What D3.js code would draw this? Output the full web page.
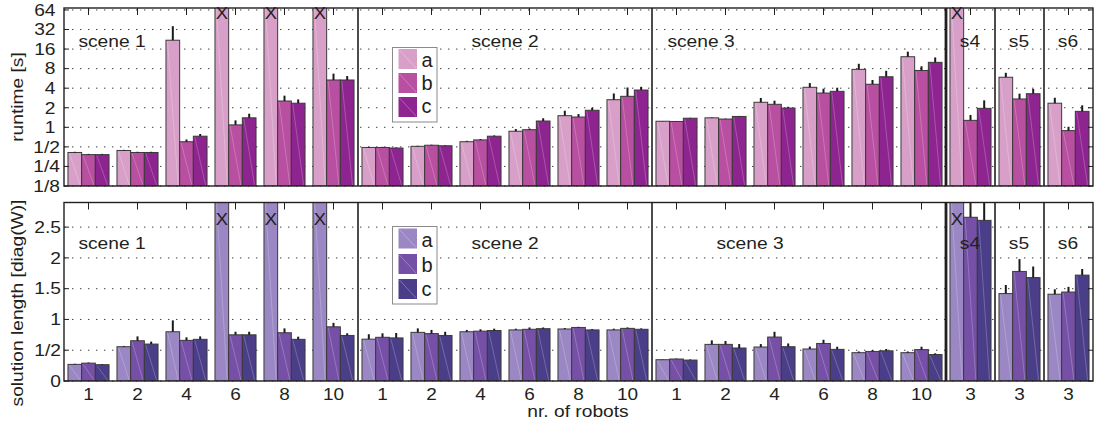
<!DOCTYPE html>
<html>
<head>
<meta charset="utf-8">
<script src="https://cdn.jsdelivr.net/npm/d3@7"></script>
<style>
  body { margin: 0; background: #fff; }
  text { font-family: "Liberation Sans", Arial, sans-serif; fill: #231f20; }
</style>
</head>
<body>
<svg id="chart" width="1094" height="426"></svg>
<script>
// groups along the x axis (nr. of robots), split into scenes
const groupLabels = ['1','2','4','6','8','10', '1','2','4','6','8','10', '1','2','4','6','8','10', '3','3','3'];
const sceneNames = ['scene 1', 'scene 2', 'scene 3', 's4', 's5', 's6'];
const sceneSizes = [6, 6, 6, 1, 1, 1];
const methods = ['a', 'b', 'c'];

// runtime [s]; null = timed out (drawn as full bar with X)
const runtimeA = [0.41, 0.44, 21.9, null, null, null, 0.49, 0.51, 0.60, 0.87, 1.51, 2.66, 1.24, 1.40, 2.43, 4.13, 7.8, 12.2, null, 5.9, 2.35];
const runtimeB = [0.38, 0.41, 0.60, 1.09, 2.54, 5.35, 0.49, 0.53, 0.64, 0.92, 1.44, 3.0, 1.23, 1.34, 2.26, 3.37, 4.6, 7.5, 1.28, 2.73, 0.89];
const runtimeC = [0.38, 0.41, 0.73, 1.40, 2.35, 5.35, 0.48, 0.52, 0.73, 1.25, 1.83, 3.75, 1.38, 1.47, 1.98, 3.58, 6.0, 10.0, 1.96, 3.29, 1.76];
// upper end of the error whiskers
const runtimeErrA = [0.42, 0.45, 36, null, null, null, 0.50, 0.52, 0.62, 0.94, 1.80, 3.32, 1.25, 1.42, 2.83, 4.8, 9.5, 14.6, null, 6.9, 2.85];
const runtimeErrB = [0.39, 0.42, 0.65, 1.28, 3.07, 6.7, 0.50, 0.54, 0.66, 0.96, 1.6, 4.1, 1.24, 1.36, 2.57, 3.93, 5.35, 8.7, 1.55, 3.3, 1.02];
const runtimeErrC = [0.39, 0.42, 0.79, 1.62, 2.69, 6.15, 0.49, 0.53, 0.75, 1.38, 2.0, 4.2, 1.40, 1.49, 2.07, 4.07, 7.4, 11.9, 2.6, 3.9, 2.18];

// solution length [diag(W)]
const lengthA = [0.27, 0.557, 0.80, null, null, null, 0.68, 0.79, 0.80, 0.83, 0.845, 0.83, 0.346, 0.595, 0.552, 0.52, 0.46, 0.46, null, 1.42, 1.41];
const lengthB = [0.29, 0.654, 0.66, 0.75, 0.784, 0.88, 0.71, 0.77, 0.81, 0.84, 0.87, 0.855, 0.357, 0.595, 0.714, 0.61, 0.48, 0.51, 2.66, 1.78, 1.445];
const lengthC = [0.265, 0.60, 0.677, 0.75, 0.677, 0.74, 0.70, 0.74, 0.82, 0.85, 0.83, 0.84, 0.34, 0.536, 0.557, 0.514, 0.49, 0.43, 2.61, 1.68, 1.72];
const lengthErrA = [0.28, 0.57, 0.985, null, null, null, 0.76, 0.855, 0.83, 0.85, 0.86, 0.85, 0.35, 0.66, 0.60, 0.56, 0.48, 0.48, null, 1.56, 1.49];
const lengthErrB = [0.30, 0.725, 0.71, 0.80, 0.855, 0.945, 0.775, 0.83, 0.84, 0.87, 0.88, 0.87, 0.365, 0.65, 0.80, 0.67, 0.50, 0.557, 3.2, 1.98, 1.53];
const lengthErrC = [0.275, 0.64, 0.725, 0.80, 0.72, 0.775, 0.78, 0.80, 0.85, 0.87, 0.845, 0.855, 0.35, 0.60, 0.61, 0.557, 0.52, 0.45, 3.2, 1.86, 1.82];

const runtimeTicks = [1/8, 1/4, 1/2, 1, 2, 4, 8, 16, 32, 64];
const runtimeTickLabels = ['1/8', '1/4', '1/2', '1', '2', '4', '8', '16', '32', '64'];
const lengthTicks = [0, 0.5, 1, 1.5, 2, 2.5];
const lengthTickLabels = ['0', '1/2', '1', '1.5', '2', '2.5'];

const runtimeColors = ['#d8a0c8', '#b84fa0', '#8e2490'];
const lengthColors = ['#9a87c3', '#7650a6', '#4b3e88'];

// ---- layout ----
const SX = 1.2;            // the original type is stretched along the text direction
const FS = 16;
const left = 64, right = 1093;
const svg = d3.select('#chart');

const x = d3.scaleBand().domain(d3.range(groupLabels.length)).range([left, right]).padding(0);
const xm = d3.scaleBand().domain(methods).range([0, x.bandwidth()]).paddingInner(0).paddingOuter(0.29);

function label(g, px, py, str, anchor, size, rot, sx) {
  var s = sx === undefined ? SX : sx;
  return g.append('text')
    .attr('transform', 'translate(' + px + ',' + py + ')' + (rot ? ' rotate(-90)' : '') + ' scale(' + s + ',1)')
    .attr('text-anchor', anchor || 'middle')
    .attr('font-size', size || FS)
    .text(str);
}

// scene start indices
var sceneStart = [];
sceneSizes.reduce(function(acc, n) { sceneStart.push(acc); return acc + n; }, 0);

const panels = [
  {
    id: 'rt',
    y: d3.scaleLog().base(2).domain([1/8, Math.pow(2, 6.1)]).range([186, 8]),
    values: [runtimeA, runtimeB, runtimeC],
    errs: [runtimeErrA, runtimeErrB, runtimeErrC],
    colors: runtimeColors,
    ticks: runtimeTicks, tickLabels: runtimeTickLabels,
    tickLabelX: function(d) { return d < 1 ? 60 : 55.5; },
    title: 'runtime [s]', titleY: 97,
    sceneX: [112, 505, 701, 970, 1019, 1068], sceneY: 46.5,
    legend: {x: 392.5, y: 47.5, w: 44.5, h: 74.5, rows: [49, 73, 97], textY: [66.5, 89.5, 113]},
    xMarkY: 19,
    showX: false
  },
  {
    id: 'len',
    y: d3.scaleLinear().domain([0, 2.9]).range([381, 202.5]),
    values: [lengthA, lengthB, lengthC],
    errs: [lengthErrA, lengthErrB, lengthErrC],
    colors: lengthColors,
    ticks: lengthTicks, tickLabels: lengthTickLabels,
    tickLabelX: function() { return 61; },
    title: 'solution length [diag(W)]', titleY: 303,
    sceneX: [112, 505, 750, 970, 1019, 1068], sceneY: 248.5,
    legend: {x: 392.5, y: 226.5, w: 44.5, h: 77.5, rows: [228.5, 254, 279], textY: [247, 271.5, 296]},
    xMarkY: 225,
    showX: true
  }
];

panels.forEach(function(p) {
  var y = p.y;
  var y0 = y.range()[0], y1 = y.range()[1];
  var g = svg.append('g').attr('class', 'panel-' + p.id);

  g.append('clipPath').attr('id', 'clip-' + p.id)
    .append('rect').attr('x', left).attr('y', y1).attr('width', right - left).attr('height', y0 - y1);

  // dotted grid
  g.selectAll('.grid').data(p.ticks).enter()
    .append('line')
    .attr('class', 'grid')
    .attr('x1', left).attr('x2', right)
    .attr('y1', function(d) { return y(d); })
    .attr('y2', function(d) { return y(d); })
    .attr('stroke', '#3a3a3a').attr('stroke-width', 1)
    .attr('stroke-dasharray', '1.4,6.6');

  var plot = g.append('g').attr('clip-path', 'url(#clip-' + p.id + ')');

  var barData = [];
  groupLabels.forEach(function(lbl, i) {
    methods.forEach(function(m, j) {
      barData.push({i: i, m: m, j: j, v: p.values[j][i], e: p.errs[j][i]});
    });
  });

  var bars = plot.selectAll('.bar').data(barData).enter()
    .append('g').attr('class', 'bar');

  var top = function(d) { return d.v === null ? y1 - 2 : y(d.v); };
  var bx = function(d) { return x(d.i) + xm(d.m); };

  bars.append('rect')
    .attr('x', bx)
    .attr('y', top)
    .attr('width', xm.bandwidth())
    .attr('height', function(d) { return y0 - top(d); })
    .attr('fill', function(d) { return p.colors[d.j]; })
    .attr('stroke', '#3a3a3a').attr('stroke-width', 1);

  // faint seam line seen in the original rendering
  bars.append('line')
    .attr('x1', function(d) { return bx(d) + 1.5; })
    .attr('y1', function(d) { return top(d) + 1; })
    .attr('x2', function(d) { return bx(d) + xm.bandwidth() - 1.5; })
    .attr('y2', y0 - 1)
    .attr('stroke', 'rgba(255,255,255,0.28)').attr('stroke-width', 0.8);

  bars.filter(function(d) { return d.v !== null && d.e !== null && d.e > d.v; })
    .append('line')
    .attr('x1', function(d) { return bx(d) + xm.bandwidth() / 2; })
    .attr('x2', function(d) { return bx(d) + xm.bandwidth() / 2; })
    .attr('y1', function(d) { return y(d.v); })
    .attr('y2', function(d) { return y(d.e); })
    .attr('stroke', '#1a1a1a').attr('stroke-width', 2);

  // X marks for runs that did not finish
  barData.filter(function(d) { return d.v === null; }).forEach(function(d) {
    label(g, bx(d) + xm.bandwidth() / 2, p.xMarkY, 'X', 'middle', 16, false, 1.15);
  });

  // scene separators
  sceneStart.slice(1).forEach(function(s, k) {
    var sx = x(s);
    g.append('line')
      .attr('x1', sx).attr('x2', sx).attr('y1', y1).attr('y2', y0)
      .attr('stroke', '#231f20').attr('stroke-width', k === 2 ? 2.8 : 1.6);
  });

  // ticks: left / right inward, top at group centres
  p.ticks.forEach(function(t) {
    g.append('line').attr('x1', left).attr('x2', left + 5).attr('y1', y(t)).attr('y2', y(t))
      .attr('stroke', '#231f20');
    g.append('line').attr('x1', right - 5).attr('x2', right).attr('y1', y(t)).attr('y2', y(t))
      .attr('stroke', '#231f20');
  });
  g.selectAll('.xtick').data(groupLabels).enter()
    .append('line').attr('class', 'xtick')
    .attr('x1', function(d, i) { return x(i) + x.bandwidth() / 2; })
    .attr('x2', function(d, i) { return x(i) + x.bandwidth() / 2; })
    .attr('y1', y1).attr('y2', y1 + 7)
    .attr('stroke', '#231f20');

  // frame
  g.append('rect')
    .attr('x', left).attr('y', y1).attr('width', right - left).attr('height', y0 - y1)
    .attr('fill', 'none').attr('stroke', '#231f20').attr('stroke-width', 1.4);

  // y tick labels
  p.ticks.forEach(function(t, k) {
    label(g, p.tickLabelX(t), y(t), p.tickLabels[k], 'end', FS).attr('dy', '0.36em');
  });

  label(g, 23, p.titleY, p.title, 'middle', FS, true);

  // scene names
  sceneNames.forEach(function(s, k) {
    label(g, p.sceneX[k], p.sceneY, s, 'middle', FS);
  });

  // legend
  var L = p.legend;
  var lg = g.append('g').attr('class', 'legend');
  lg.append('rect').attr('x', L.x).attr('y', L.y).attr('width', L.w).attr('height', L.h)
    .attr('fill', '#fff').attr('stroke', '#8a8a8a').attr('stroke-width', 1);
  methods.forEach(function(m, j) {
    lg.append('rect').attr('x', L.x + 6).attr('y', L.rows[j]).attr('width', 18.5).attr('height', 20)
      .attr('fill', p.colors[j]);
    lg.append('line')
      .attr('x1', L.x + 7).attr('y1', L.rows[j] + 1)
      .attr('x2', L.x + 23.5).attr('y2', L.rows[j] + 19)
      .attr('stroke', 'rgba(255,255,255,0.35)').attr('stroke-width', 0.8);
    label(lg, L.x + 29, L.textY[j], m, 'start', 20, false, 1);
  });

  if (p.showX) {
    groupLabels.forEach(function(lbl, i) {
      label(g, x(i) + x.bandwidth() / 2, 400, lbl, 'middle', 16.5, false, 1.15);
    });
    label(g, 578, 417, 'nr. of robots', 'middle', FS);
  }
});
</script>
</body>
</html>
